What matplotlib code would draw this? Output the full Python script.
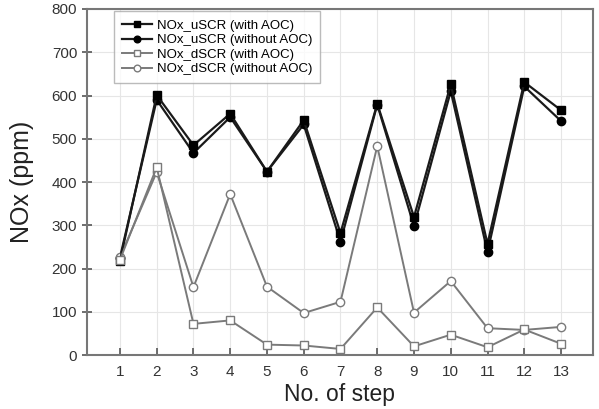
import matplotlib
matplotlib.use("Agg")
import matplotlib.pyplot as plt

plt.rcParams['font.family'] = ['Liberation Sans', 'DejaVu Sans']

steps = list(range(1, 14))
u_with = [218, 601, 485, 558, 424, 543, 282, 581, 319, 626, 257, 631, 566]
u_without = [225, 590, 467, 550, 424, 533, 262, 579, 298, 610, 238, 621, 541]
d_with = [220, 434, 72, 80, 24, 22, 14, 110, 20, 47, 18, 59, 26]
d_without = [226, 423, 157, 372, 158, 97, 123, 483, 98, 171, 62, 58, 65]
labels = ["NOx_uSCR (with AOC)", "NOx_uSCR (without AOC)",
          "NOx_dSCR (with AOC)", "NOx_dSCR (without AOC)"]

fig = plt.figure(figsize=(5.99, 4.09), dpi=100)
ax = fig.add_axes([0.145, 0.132, 0.845, 0.846])

dark = '#1a1a1a'
grey = '#7a7a7a'
ax.plot(steps, u_with, color=dark, lw=1.6, marker='s', ms=6, mfc='black', mec='black', label=labels[0], zorder=4)
ax.plot(steps, u_without, color=dark, lw=1.6, marker='o', ms=6, mfc='black', mec='black', label=labels[1], zorder=3)
ax.plot(steps, d_with, color=grey, lw=1.4, marker='s', ms=6, mfc='white', mec=grey, mew=1.0, label=labels[2], zorder=4)
ax.plot(steps, d_without, color=grey, lw=1.4, marker='o', ms=6, mfc='white', mec=grey, mew=1.0, label=labels[3], zorder=3)

ax.set_xlim(0.1, 13.87)
ax.set_ylim(0, 800)
ax.set_xticks(steps)
ax.set_yticks(range(0, 801, 100))
ax.grid(True, color='#e6e6e6', lw=0.8)
ax.set_axisbelow(True)
for s in ax.spines.values():
    s.set_color('#777777')
    s.set_linewidth(1.5)
ax.tick_params(axis='x', direction='in', length=5, width=1.2, color='#555555', labelsize=11, labelcolor='#333333', pad=7)
ax.tick_params(axis='y', direction='inout', length=7, width=1.2, color='#555555', labelsize=11, labelcolor='#333333')

ax.set_xlabel("No. of step", fontsize=16.5, color='#222222')
ax.set_ylabel("NOx (ppm)", fontsize=18, color='#222222')
ax.xaxis.set_label_coords(0.5, -0.082)
ax.yaxis.set_label_coords(-0.105, 0.5)

leg = ax.legend(loc='upper left', bbox_to_anchor=(0.053, 0.993), borderaxespad=0, fontsize=9.5, frameon=True,
                fancybox=False, edgecolor='#aaaaaa', handlelength=2.3, labelspacing=0.18,
                borderpad=0.6, handletextpad=0.35, markerscale=0.8)
leg.get_frame().set_linewidth(1.0)

fig.savefig("out.png", dpi=100)
